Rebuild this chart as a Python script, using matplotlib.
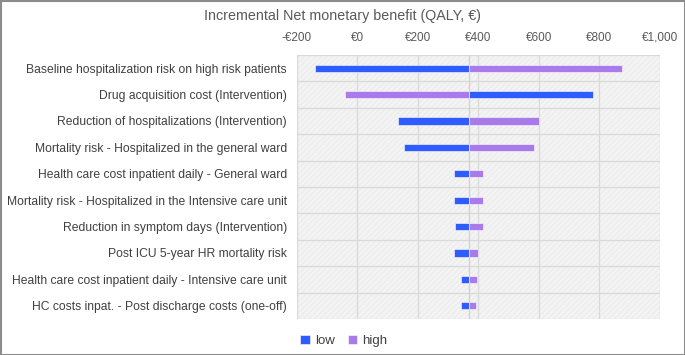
import matplotlib.pyplot as plt
from matplotlib.patches import Rectangle
import numpy as np

# Tornado data
categories = [
    "Baseline hospitalization risk on high risk patients",
    "Drug acquisition cost (Intervention)",
    "Reduction of hospitalizations (Intervention)",
    "Mortality risk - Hospitalized in the general ward",
    "Health care cost inpatient daily - General ward",
    "Mortality risk - Hospitalized in the Intensive care unit",
    "Reduction in symptom days (Intervention)",
    "Post ICU 5-year HR mortality risk",
    "Health care cost inpatient daily - Intensive care unit",
    "HC costs inpat. - Post discharge costs (one-off)",
]
base_value = 369
low_values = [-141, 779, 135, 154, 318, 320, 322, 319, 342, 343]
high_values = [876, -42, 599, 583, 416, 416, 415, 399, 394, 393]
tick_values = [-200, 0, 200, 400, 600, 800, 1000]
tick_labels = ["-€200", "€0", "€200", "€400", "€600", "€800", "€1,000"]

plt.rcParams['font.family'] = ['Liberation Sans', 'DejaVu Sans']

fig = plt.figure(figsize=(6.85, 3.55), dpi=100)
ax = fig.add_axes([296.7 / 685, 1 - 319 / 355, (660 - 296.7) / 685, (319 - 55) / 355])

y = np.arange(len(categories))
low = np.array(low_values) - base_value
high = np.array(high_values) - base_value

ax.barh(y, low, left=base_value, height=0.28, color='#2f5cff', label='low', zorder=3,
        edgecolor='white', linewidth=0.4)
ax.barh(y, high, left=base_value, height=0.28, color='#a97ae9', label='high', zorder=3,
        edgecolor='white', linewidth=0.4)

ax.set_xlim(-200, 1000)
ax.set_ylim(len(categories) - 0.5, -0.5)
ax.set_facecolor('#f4f4f4')
ax.add_patch(Rectangle((0, 0), 1, 1, transform=ax.transAxes, facecolor='none',
                       hatch='//////', edgecolor='#ececec', linewidth=0, zorder=0))

ax.xaxis.tick_top()
ax.set_xticks(tick_values)
ax.set_xticklabels(tick_labels, fontsize=8.5, color='#595959')
ax.set_yticks(y)
ax.set_yticklabels(categories, fontsize=8.7, color='#404040')
ax.tick_params(length=0, pad=8)
ax.tick_params(axis='y', pad=7)

for v in tick_values:
    ax.axvline(v, color='#d9d9d9', linewidth=0.9, zorder=1)
for b in np.arange(-0.5, len(categories), 1):
    ax.axhline(b, color='#d9d9d9', linewidth=0.9, zorder=1)
ax.axvline(base_value, color='#d0d0d0', linewidth=0.9, zorder=2)
for s in ax.spines.values():
    s.set_visible(False)

fig.text(0.5, 1 - 16 / 355, "Incremental Net monetary benefit (QALY, €)", ha='center', va='center',
         fontsize=10.3, color='#595959')

ax.legend(loc='upper center', bbox_to_anchor=(0.13, -0.015), ncol=2, frameon=False,
          fontsize=9.5, handlelength=0.7, handleheight=0.7, handletextpad=0.4, columnspacing=1.0,
          labelcolor='#404040')

fig.add_artist(Rectangle((0.5 / 685, 0.5 / 355), 1 - 1 / 685, 1 - 1 / 355, transform=fig.transFigure,
                         facecolor='none', edgecolor='#8c8c8c', linewidth=1.5))

plt.savefig("out.png", dpi=100)
